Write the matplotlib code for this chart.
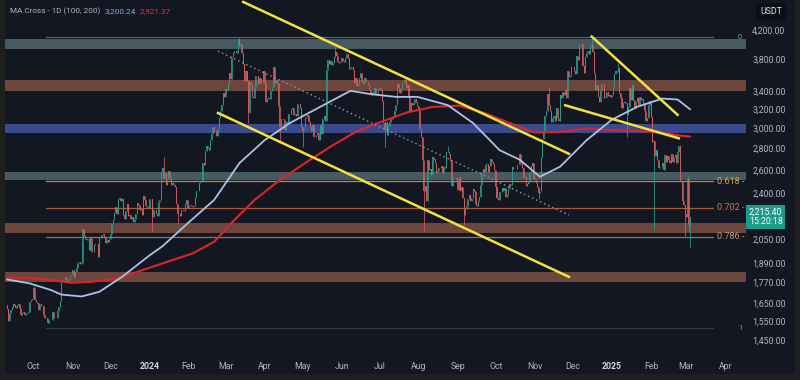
import numpy as np
import pandas as pd
import matplotlib
matplotlib.use("Agg")
import matplotlib.pyplot as plt
import matplotlib.dates as mdates
import matplotlib.transforms as mtransforms

# ETH/USDT daily closes (first candle 2023-09-10)
first_day = "2023-09-10"
open_first = 1635
close_2023_09 = [1616, 1552, 1592, 1607, 1625, 1641, 1634, 1622, 1638, 1645, 1622, 1585, 1593, 1596,
                 1581, 1588, 1594, 1596, 1652, 1667, 1671]
close_2023_10 = [1733, 1663, 1656, 1647, 1611, 1645, 1633, 1632, 1580, 1567, 1566, 1539, 1553, 1555, 1557, 1600,
                 1565, 1565, 1566, 1604, 1628, 1661, 1773, 1785, 1787, 1803, 1778, 1774, 1791, 1812, 1815]
close_2023_11 = [1847, 1800, 1833, 1856, 1894, 1900, 1886, 1888, 2121, 2076, 2053, 2045, 2054, 1979, 2058,
                 1961, 1962, 2011, 2021, 2015, 1933, 2063, 2063, 2081, 2085, 2064, 2026, 2049, 2029, 2052]
close_2023_12 = [2087, 2165, 2193, 2243, 2294, 2233, 2358, 2359, 2342, 2353, 2226, 2202, 2260, 2315, 2221, 2225,
                 2197, 2217, 2177, 2201, 2239, 2326, 2310, 2265, 2272, 2230, 2378, 2346, 2300, 2293, 2282]
close_2024_01 = [2352, 2355, 2210, 2269, 2268, 2240, 2222, 2330, 2344, 2584, 2617, 2524, 2577, 2473, 2511, 2587,
                 2528, 2467, 2490, 2471, 2456, 2312, 2240, 2236, 2218, 2268, 2268, 2257, 2317, 2344, 2283]
close_2024_02 = [2304, 2309, 2296, 2290, 2297, 2372, 2423, 2420, 2486, 2502, 2507, 2660, 2643, 2778, 2825,
                 2802, 2786, 2882, 2944, 3014, 2967, 2972, 2922, 2991, 3111, 3179, 3244, 3385, 3340]
close_2024_03 = [3434, 3421, 3488, 3629, 3556, 3823, 3875, 3905, 3913, 3880, 4066, 3982, 4005, 3884, 3733, 3523,
                 3644, 3522, 3159, 3516, 3496, 3335, 3330, 3454, 3590, 3588, 3488, 3562, 3508, 3508, 3647]
close_2024_04 = [3504, 3279, 3311, 3330, 3318, 3407, 3453, 3698, 3504, 3543, 3505, 3240, 3008, 3100, 3097,
                 3084, 2985, 3063, 3056, 3155, 3147, 3200, 3219, 3141, 3155, 3131, 3256, 3264, 3216, 3014]
close_2024_05 = [2972, 2987, 3102, 3117, 3137, 3063, 3009, 2975, 3036, 2910, 2912, 2929, 2950, 2882, 3036, 2946,
                 3093, 3123, 3071, 3665, 3789, 3739, 3780, 3727, 3749, 3826, 3893, 3841, 3765, 3746, 3762]
close_2024_06 = [3815, 3781, 3767, 3810, 3866, 3812, 3680, 3682, 3706, 3665, 3500, 3560, 3470, 3480, 3565,
                 3621, 3510, 3486, 3560, 3516, 3520, 3493, 3420, 3357, 3398, 3373, 3448, 3375, 3378, 3438]
close_2024_07 = [3440, 3417, 3297, 3056, 2983, 3068, 2931, 3019, 3066, 3102, 3100, 3132, 3178, 3246, 3490, 3443,
                 3390, 3428, 3505, 3517, 3535, 3440, 3481, 3340, 3173, 3273, 3250, 3270, 3320, 3280, 3232]
close_2024_08 = [3202, 2988, 2907, 2688, 2420, 2460, 2340, 2686, 2598, 2610, 2555, 2723, 2703, 2663, 2570, 2590,
                 2614, 2616, 2637, 2575, 2631, 2622, 2764, 2768, 2746, 2681, 2458, 2527, 2529, 2527, 2513]
close_2024_09 = [2424, 2537, 2422, 2449, 2366, 2225, 2272, 2298, 2358, 2388, 2340, 2362, 2439, 2418, 2315,
                 2295, 2340, 2373, 2467, 2561, 2612, 2582, 2646, 2653, 2580, 2633, 2697, 2676, 2657, 2603]
close_2024_10 = [2449, 2363, 2350, 2414, 2415, 2441, 2423, 2441, 2371, 2385, 2438, 2477, 2470, 2630, 2606, 2611,
                 2605, 2642, 2648, 2747, 2666, 2621, 2527, 2536, 2463, 2479, 2505, 2569, 2638, 2662, 2520]
close_2024_11 = [2515, 2490, 2457, 2399, 2422, 2721, 2894, 2961, 3127, 3182, 3371, 3247, 3186, 3062, 3102,
                 3132, 3074, 3211, 3108, 3072, 3356, 3327, 3393, 3359, 3414, 3324, 3653, 3579, 3591, 3703]
close_2024_12 = [3706, 3647, 3613, 3837, 3786, 4001, 4000, 4006, 3711, 3629, 3833, 3880, 3909, 3874, 3958, 3987,
                 3891, 3628, 3423, 3477, 3333, 3280, 3415, 3492, 3488, 3330, 3333, 3398, 3350, 3357, 3334]
close_2025_01 = [3356, 3451, 3606, 3655, 3636, 3685, 3381, 3325, 3220, 3265, 3281, 3265, 3137, 3225, 3448, 3308,
                 3474, 3310, 3215, 3282, 3326, 3244, 3337, 3305, 3318, 3275, 3178, 3076, 3112, 3249, 3295]
close_2025_02 = [3122, 2860, 2870, 2730, 2785, 2687, 2617, 2631, 2625, 2660, 2601, 2736, 2676, 2726,
                 2695, 2663, 2744, 2671, 2718, 2735, 2663, 2762, 2820, 2510, 2497, 2336, 2310, 2237]
close_2025_03 = [2217, 2518, 2150, 2215]

# the long wicks that stand out
wick_high = {"2023-10-01": 1750, "2024-01-12": 2717, "2024-03-12": 4093, "2024-05-27": 3975,
             "2024-07-21": 3560, "2024-08-24": 2820, "2024-11-12": 3450, "2024-12-16": 4107,
             "2025-01-06": 3745, "2025-03-02": 2550}
wick_low = {"2024-01-03": 2100, "2024-01-23": 2170, "2024-03-19": 3056, "2024-04-13": 2850,
            "2024-05-01": 2810, "2024-07-05": 2810, "2024-08-05": 2111, "2024-09-06": 2150,
            "2024-11-04": 2357, "2025-01-13": 2910, "2025-02-03": 2120, "2025-02-28": 2076,
            "2025-03-03": 2100, "2025-03-04": 1993}

# moving averages (100 / 200), read at points along the curves
ma100_dates = ["2023-09-10", "2023-09-28", "2023-10-15", "2023-10-23", "2023-11-08", "2023-11-22",
               "2023-12-10", "2024-01-01", "2024-01-11", "2024-01-31", "2024-02-21", "2024-03-12",
               "2024-04-01", "2024-04-21", "2024-05-15", "2024-06-08", "2024-06-24", "2024-07-14",
               "2024-07-31", "2024-08-24", "2024-09-13", "2024-10-04", "2024-10-20", "2024-11-05",
               "2024-11-21", "2024-12-12", "2025-01-01", "2025-01-21", "2025-02-10", "2025-02-22",
               "2025-03-04"]
ma100_vals = [1787, 1763, 1723, 1697, 1686, 1713, 1803, 1942, 2002, 2166, 2347, 2662, 2880, 3054, 3228,
              3410, 3371, 3340, 3340, 3247, 3054, 2783, 2693, 2541, 2630, 2880, 3089, 3228, 3321, 3310, 3200]
ma200_dates = ["2023-09-10", "2023-09-28", "2023-10-15", "2023-10-31", "2023-11-16", "2023-12-06",
               "2023-12-22", "2024-01-11", "2024-02-04", "2024-02-21", "2024-03-08", "2024-03-24",
               "2024-04-13", "2024-05-03", "2024-05-23", "2024-06-12", "2024-07-03", "2024-07-23",
               "2024-08-12", "2024-09-02", "2024-09-22", "2024-10-12", "2024-11-01", "2024-11-21",
               "2024-12-12", "2025-01-01", "2025-01-25", "2025-02-10", "2025-02-22", "2025-03-04"]
ma200_vals = [1799, 1797, 1783, 1767, 1773, 1793, 1834, 1888, 1954, 2034, 2191, 2347, 2512, 2662, 2815,
              2962, 3071, 3168, 3227, 3241, 3161, 3054, 2956, 2962, 2997, 2981, 2970, 2955, 2928, 2915]
ma100_last = "3,200.24"
ma200_last = "2,921.37"

# support / resistance zones (low, high)
zones_gray = [(3935, 4075), (2512, 2585)]
zones_brown = [(3408, 3540), (2094, 2166), (1772, 1834)]
zones_blue = [(2950, 3041)]

# drawn trend lines: start date, start price, end date, end price
yellow_lines = [("2024-03-15", 4623, "2024-11-28", 2748),
                ("2024-02-24", 3161, "2024-11-28", 1803),
                ("2024-11-25", 3245, "2025-02-23", 2898),
                ("2024-12-16", 4107, "2025-02-22", 3141)]
dotted_line = ("2024-02-24", 3905, "2024-11-28", 2228)

# fibonacci retracement
fib_top, fib_bottom = 4100, 1514
fib_start, fib_end = "2023-10-11", "2025-03-22"
fib_levels = [0.618, 0.702, 0.786]
fib_line_colors = ["#b8913f", "#a65a38", "#8c7564"]
fib_text_colors = ["#d9a848", "#d8744a", "#c39a74"]

price_ticks = [4200, 3800, 3400, 3200, 3000, 2800, 2600, 2400, 2050, 1890, 1770, 1650, 1550, 1450]
last_price = 2215.40
countdown = "15:20:18"

# ---- build candles
closes = (close_2023_09 + close_2023_10 + close_2023_11 + close_2023_12 + close_2024_01 + close_2024_02
          + close_2024_03 + close_2024_04 + close_2024_05 + close_2024_06 + close_2024_07 + close_2024_08
          + close_2024_09 + close_2024_10 + close_2024_11 + close_2024_12 + close_2025_01 + close_2025_02
          + close_2025_03)
days = pd.date_range(first_day, periods=len(closes), freq="D")
xd = mdates.date2num(days)
c = np.array(closes, float)
o = np.concatenate([[open_first], c[:-1]])
hi = np.maximum(o, c)
lo = np.minimum(o, c)
for d, v in wick_high.items():
    i = days.get_loc(pd.Timestamp(d))
    hi[i] = max(hi[i], v)
for d, v in wick_low.items():
    i = days.get_loc(pd.Timestamp(d))
    lo[i] = min(lo[i], v)
up = c >= o
cols = np.where(up, "#2a9d8a", "#d85c5c")

BG = "#131722"
TXT = "#b2b5be"
plt.rcParams["font.family"] = ["Roboto", "DejaVu Sans"]

fig = plt.figure(figsize=(8, 3.8), dpi=100, facecolor="#1f1f1f")
panel = fig.add_axes([5 / 800, 6 / 380, 790 / 800, 374 / 380])
panel.set_facecolor(BG)
panel.set_xticks([])
panel.set_yticks([])
for s in panel.spines.values():
    s.set_visible(False)

ax = fig.add_axes([5 / 800, 28 / 380, 741 / 800, 352 / 380])
ax.set_facecolor("none")
ax.set_yscale("log")
ax.set_ylim(1394, 4654)
ax.set_xlim(mdates.date2num(pd.Timestamp("2023-09-08 08:00")),
            mdates.date2num(pd.Timestamp("2025-04-17 05:00")))

def dn(s):
    return mdates.date2num(pd.Timestamp(s))

for lo_z, hi_z in zones_gray:
    ax.axhspan(lo_z, hi_z, color="#485a61", lw=0, zorder=1)
for lo_z, hi_z in zones_brown:
    ax.axhspan(lo_z, hi_z, color="#6c463d", lw=0, zorder=1)
for lo_z, hi_z in zones_blue:
    ax.axhspan(lo_z, hi_z, color="#3b4a8c", lw=0, zorder=1)

# fib lines
trans = mtransforms.blended_transform_factory(ax.transAxes, ax.transData)
ax.plot([dn(fib_start), dn(fib_end)], [fib_top, fib_top], color="#5b6a70", lw=0.8, zorder=1.5)
ax.plot([dn(fib_start), dn(fib_end)], [fib_bottom, fib_bottom], color="#363a45", lw=0.8, zorder=1.5)
ax.text(0.995, fib_top, "0", transform=trans, ha="right", va="center", fontsize=5.5, color="#8a8f98")
ax.text(0.995, fib_bottom, "1", transform=trans, ha="right", va="center", fontsize=5.5, color="#8a8f98")
for lev, lc, tc in zip(fib_levels, fib_line_colors, fib_text_colors):
    p = fib_top - lev * (fib_top - fib_bottom)
    ax.plot([dn(fib_start), dn(fib_end)], [p, p], color=lc, lw=0.9, zorder=1.5)
    ax.text(0.998, p, f"{lev:.3f} -", transform=trans, ha="right", va="center",
            fontsize=6.5, color=tc, zorder=5)

# candles
ax.vlines(xd, lo, hi, colors=cols, lw=0.65, alpha=0.85, zorder=2)
ax.bar(xd, c - o, bottom=o, width=0.8, color=cols, lw=0, alpha=0.85, zorder=2)

# moving averages
ax.plot([dn(d) for d in ma200_dates], ma200_vals, color="#d9262c", lw=1.5, zorder=3,
        solid_capstyle="round")
ax.plot([dn(d) for d in ma100_dates], ma100_vals, color="#a9c2e6", lw=1.3, zorder=3,
        solid_capstyle="round")

# trend lines
d1, p1, d2, p2 = dotted_line
ax.plot([dn(d1), dn(d2)], [p1, p2], color="#959aa4", lw=1.0, ls=(0, (1, 2.2)), zorder=3)
for d1, p1, d2, p2 in yellow_lines:
    ax.plot([dn(d1), dn(d2)], [p1, p2], color="#f3e13f", lw=1.8, zorder=4)

# axes
ax.set_yticks(price_ticks)
ax.set_yticklabels([f"{v:,.2f}" for v in price_ticks])
ax.yaxis.set_minor_locator(matplotlib.ticker.NullLocator())
ax.yaxis.tick_right()
ax.tick_params(axis="y", length=0, pad=4.5, labelsize=6.3, labelcolor=TXT)

months = pd.date_range("2023-10-01", "2025-04-01", freq="MS")
ax.set_xticks(mdates.date2num(months))
ax.set_xticklabels([str(m.year) if m.month == 1 else m.strftime("%b") for m in months])
ax.tick_params(axis="x", length=0, pad=7, labelsize=6.3, labelcolor=TXT)
for lab, m in zip(ax.get_xticklabels(), months):
    if m.month == 1:
        lab.set_fontweight("bold")
        lab.set_color("#d1d4dc")
for s in ax.spines.values():
    s.set_visible(False)

# last price box
ax.text(1.004, last_price, f"{last_price:,.2f}\n{countdown}", transform=trans, ha="left", va="center",
        fontsize=6.3, color="white", linespacing=1.1, clip_on=False, zorder=6,
        bbox=dict(boxstyle="square,pad=0.3", fc="#1c9c88", ec="none"))

# header, placed one piece after the other
fig.canvas.draw()
renderer = fig.canvas.get_renderer()
hx = 10
for txt, col in [("MA Cross - 1D (100, 200)", TXT), (ma100_last, "#86a8dc"), (ma200_last, "#e0383d")]:
    t = fig.text(hx / 800, 1 - 11 / 380, txt, color=col, fontsize=5.9, va="center")
    hx += t.get_window_extent(renderer).width + 4
fig.text(771 / 800, 1 - 12 / 380, "USDT", color="#e0e3eb", fontsize=6.3, ha="center", va="center",
         bbox=dict(boxstyle="round,pad=0.45,rounding_size=0.3", fc="#0c0e13", ec="none"))

fig.savefig("out.png", dpi=100, facecolor=fig.get_facecolor())
